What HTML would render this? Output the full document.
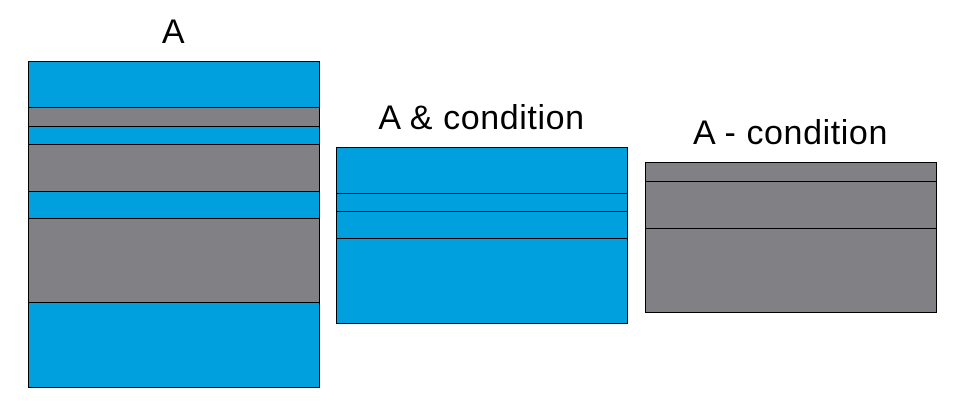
<!DOCTYPE html>
<html><head><meta charset="utf-8"><style>
html,body{margin:0;padding:0;background:#fff;}
svg{display:block;}
text{font-family:"Liberation Sans",sans-serif;font-size:34px;letter-spacing:0.6px;fill:#000;}
</style></head><body>
<svg id="chart" width="960" height="405"></svg>
<script>
const segmentValues = [46, 19, 18, 47, 27, 84, 85];
const segmentKinds = ["in", "out", "in", "out", "in", "out", "in"];
const panelTitles = ["A", "A & condition", "A - condition"];
const panelFilters = ["all", "in", "out"];

const svgNS = "http://www.w3.org/2000/svg";
const svg = document.getElementById("chart");
const panelX = [28, 336, 645];
const panelW = 291;
const colors = {in: "#00A0DF", out: "#818185"};
const unit = 1.0;
function yScale(v){ return v * unit; }

panelFilters.forEach((f, p) => {
  const idx = segmentValues.map((v, i) => i).filter(i => f === "all" || segmentKinds[i] === f);
  const top = p === 0 ? 61 : (p === 1 ? 147 : 162);
  const g = document.createElementNS(svgNS, "g");
  
  
  svg.appendChild(g);
  let y = top;
  idx.forEach(i => {
    const h = yScale(segmentValues[i]);
    const r = document.createElementNS(svgNS, "rect");
    
    
    r.setAttribute("x", panelX[p] + 0.5);
    r.setAttribute("y", y + 0.5);
    r.setAttribute("width", panelW);
    r.setAttribute("height", h);
    r.setAttribute("fill", colors[segmentKinds[i]]);
    r.setAttribute("stroke", "#000");
    r.setAttribute("stroke-width", "1");
    g.appendChild(r);
    y += h;
  });
  const t = document.createElementNS(svgNS, "text");
  
  
  t.setAttribute("x", panelX[p] + panelW / 2);
  t.setAttribute("y", top - 18);
  t.setAttribute("text-anchor", "middle");
  t.textContent = panelTitles[p];
  g.appendChild(t);
});
</script>
</body></html>
